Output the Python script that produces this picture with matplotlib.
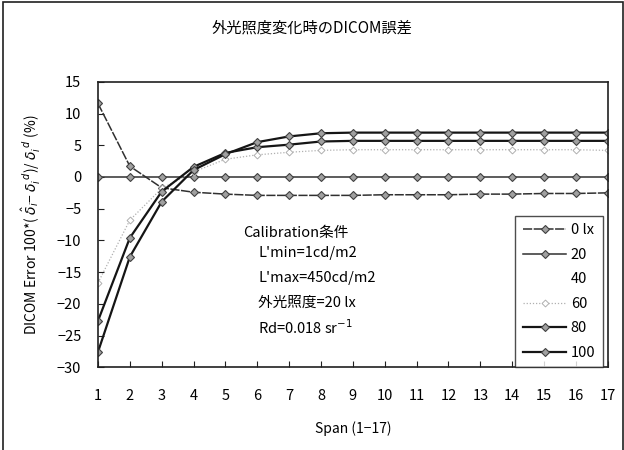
import matplotlib
matplotlib.use("Agg")
import matplotlib.pyplot as plt
from matplotlib.patches import Rectangle

plt.rcParams['font.family'] = ['Noto Sans CJK JP', 'DejaVu Sans']
plt.rcParams['mathtext.fontset'] = 'dejavusans'

# Span 1-17
span = list(range(1, 18))

# DICOM誤差 (%) 外光照度ごと
err_0lx = [11.6, 1.7, -1.7, -2.4, -2.7, -2.9, -2.9, -2.9, -2.9, -2.8, -2.8, -2.8, -2.7, -2.7, -2.6, -2.6, -2.5]
err_20lx = [0.0] * 17
err_60lx = [-16.7, -6.8, -1.8, 0.8, 2.8, 3.5, 3.9, 4.2, 4.3, 4.3, 4.3, 4.3, 4.3, 4.3, 4.3, 4.3, 4.2]
err_80lx = [-22.7, -9.6, -2.3, 1.6, 3.8, 4.7, 5.1, 5.6, 5.7, 5.7, 5.7, 5.7, 5.7, 5.7, 5.7, 5.7, 5.7]
err_100lx = [-27.6, -12.6, -3.9, 1.1, 3.6, 5.5, 6.4, 6.9, 7.0, 7.0, 7.0, 7.0, 7.0, 7.0, 7.0, 7.0, 7.0]

legend_labels = ['0 lx', '20', '40', '60', '80', '100']
y_ticks = [15, 10, 5, 0, -5, -10, -15, -20, -25, -30]

fig = plt.figure(figsize=(6.24, 4.5), dpi=100)
ax = fig.add_axes([0.157, 0.184, 0.817, 0.634])

mk = dict(marker='D', markersize=4.5, markerfacecolor='#a0a0a0', markeredgecolor='#404040', markeredgewidth=0.8)

ax.plot(span, err_0lx, color='#303030', lw=1.1, linestyle=(0, (6, 1)), label=legend_labels[0], **mk)
ax.plot(span, err_20lx, color='#303030', lw=1.1, label=legend_labels[1], **mk)
# 40 lx は白線 (非表示)
ax.plot([], [], color='white', lw=1.0, label=legend_labels[2])
ax.plot(span, err_60lx, color='#b0b0b0', lw=0.9, linestyle=(0, (1, 1.5)), label=legend_labels[3],
        marker='D', markersize=3.5, markerfacecolor='white', markeredgecolor='#b0b0b0', markeredgewidth=0.7)
ax.plot(span, err_80lx, color='#151515', lw=1.6, label=legend_labels[4], **mk)
ax.plot(span, err_100lx, color='#151515', lw=1.6, label=legend_labels[5], **mk)

ax.set_xlim(1, 17)
ax.set_ylim(-30, 15)
ax.set_xticks(span)
ax.set_yticks(y_ticks)
ax.set_yticklabels([str(v).replace('-', '−') for v in y_ticks])
ax.tick_params(axis='both', direction='in', length=4, width=0.8, labelsize=10.5, color='#202020')
ax.tick_params(axis='x', pad=16)
ax.tick_params(axis='y', pad=12)
for s in ax.spines.values():
    s.set_linewidth(1.2)
    s.set_color('#202020')

ax.set_xlabel('Span (1−17)', fontsize=10, labelpad=13)
ax.set_ylabel(r'DICOM Error 100*( $\hat{\delta}_i$− $\delta_i^{\ d}$)/ $\delta_i^{\ d}$ (%)', fontsize=10, labelpad=10)
fig.text(0.5, 0.938, '外光照度変化時のDICOM誤差', ha='center', va='center', fontsize=11)

# Calibration条件
notes = ['Calibration条件', "L'min=1cd/m2", "L'max=450cd/m2", '外光照度=20 lx', r'Rd=0.018 sr$^{-1}$']
note_x = [0.284, 0.314, 0.314, 0.314, 0.314]
note_y = [0.47, 0.40, 0.312, 0.225, 0.137]
for t, nx, ny in zip(notes, note_x, note_y):
    ax.text(nx, ny, t, transform=ax.transAxes, fontsize=10.5, va='center', ha='left')

leg = ax.legend(loc='lower right', bbox_to_anchor=(0.99, 0.0), fontsize=10.5, frameon=True,
                fancybox=False, edgecolor='#202020', handlelength=3.0, labelspacing=0.72,
                borderpad=0.5, handletextpad=0.3, borderaxespad=0.0)
leg.get_frame().set_linewidth(1.0)

# 外枠
fig.patches.append(Rectangle((0.005, -0.01), 0.993, 1.005, transform=fig.transFigure,
                             fill=False, edgecolor='#202020', linewidth=1.2))

fig.savefig('out.png', dpi=100)
